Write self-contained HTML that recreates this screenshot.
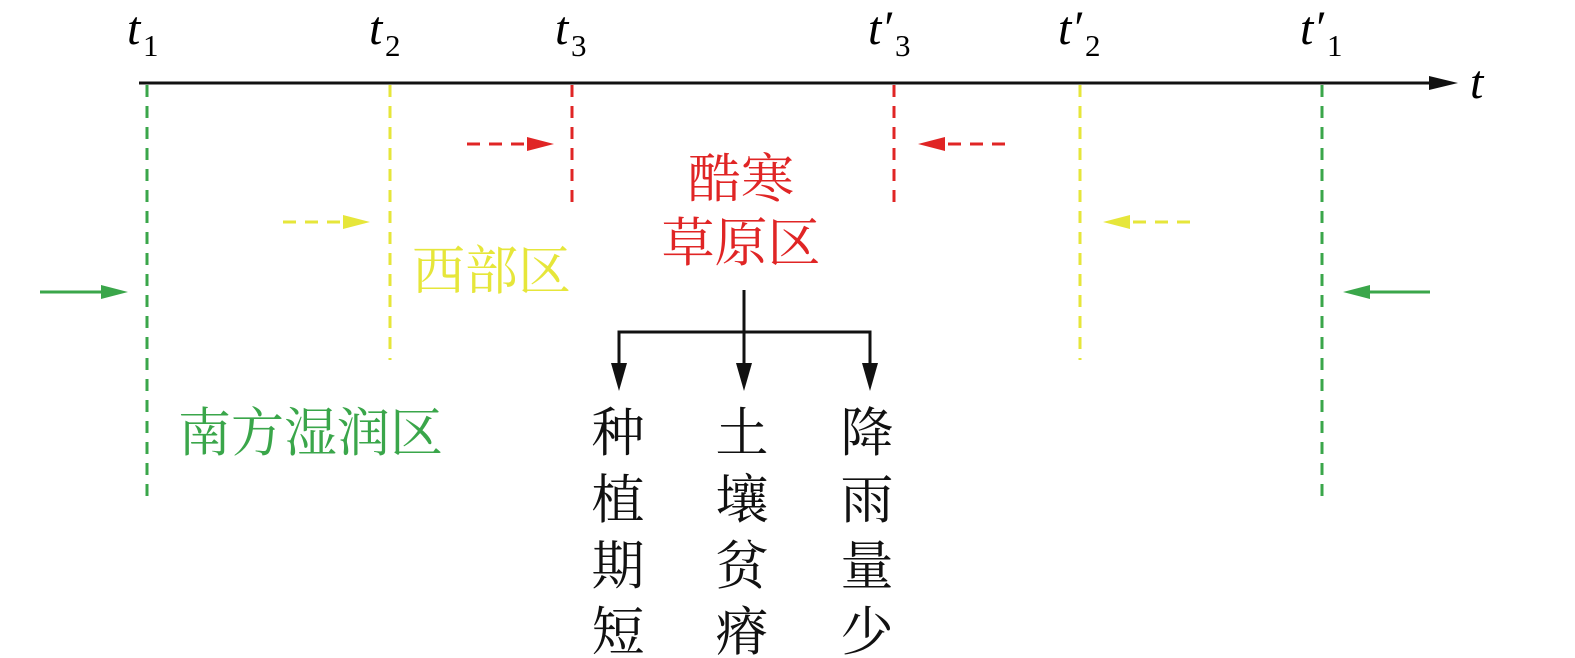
<!DOCTYPE html>
<html><head><meta charset="utf-8"><style>
html,body{margin:0;padding:0;background:#fff;width:1575px;height:658px;overflow:hidden}
svg{display:block}
.cj{font-family:"Liberation Serif","Noto Serif CJK SC",serif;font-size:53px}
.t{font-family:"Liberation Serif",serif;font-style:italic;font-size:48px}
.s{font-family:"Liberation Serif",serif;font-size:31px}
</style></head><body>
<svg width="1575" height="658" viewBox="0 0 1575 658" xmlns="http://www.w3.org/2000/svg">
<line x1="139" y1="83" x2="1432" y2="83" stroke="#111" stroke-width="3"/>
<path d="M1429,76 L1458,83 L1429,90z" fill="#111"/>
<text x="1470" y="98" class="t">t</text>
<g>
<text x="127" y="44" class="t">t</text><text x="143" y="56" class="s">1</text>
<text x="369" y="44" class="t">t</text><text x="385" y="56" class="s">2</text>
<text x="555" y="44" class="t">t</text><text x="571" y="56" class="s">3</text>
<text x="868" y="44" class="t">t′</text><text x="895" y="56" class="s">3</text>
<text x="1058" y="44" class="t">t′</text><text x="1085" y="56" class="s">2</text>
<text x="1300" y="44" class="t">t′</text><text x="1327" y="56" class="s">1</text>
</g>
<g stroke-width="3" stroke-dasharray="12,9" fill="none">
<line x1="147" y1="85" x2="147" y2="500" stroke="#3aa64a"/>
<line x1="1322" y1="85" x2="1322" y2="500" stroke="#3aa64a"/>
<line x1="390" y1="85" x2="390" y2="360" stroke="#e6e63a"/>
<line x1="1080" y1="85" x2="1080" y2="360" stroke="#e6e63a"/>
<line x1="572" y1="85" x2="572" y2="206" stroke="#e02525"/>
<line x1="894" y1="85" x2="894" y2="206" stroke="#e02525"/>
</g>
<g stroke-width="3" stroke-dasharray="13,9">
<line x1="467" y1="144" x2="527" y2="144" stroke="#e02525"/>
<line x1="1005" y1="144" x2="945" y2="144" stroke="#e02525"/>
<line x1="283" y1="222" x2="343" y2="222" stroke="#e6e63a"/>
<line x1="1190" y1="222" x2="1130" y2="222" stroke="#e6e63a"/>
</g>
<path d="M527,137 L554,144 L527,151z" fill="#e02525"/>
<path d="M945,137 L918,144 L945,151z" fill="#e02525"/>
<path d="M343,215 L370,222 L343,229z" fill="#e6e63a"/>
<path d="M1130,215 L1103,222 L1130,229z" fill="#e6e63a"/>
<line x1="40" y1="292" x2="102" y2="292" stroke="#3aa64a" stroke-width="3"/>
<path d="M101,285 L128,292 L101,299z" fill="#3aa64a"/>
<line x1="1430" y1="292" x2="1369" y2="292" stroke="#3aa64a" stroke-width="3"/>
<path d="M1370,285 L1343,292 L1370,299z" fill="#3aa64a"/>
<text x="741" y="197" text-anchor="middle" class="cj" fill="#e02525">酷寒</text>
<text x="741" y="261" text-anchor="middle" class="cj" fill="#e02525">草原区</text>
<text x="412" y="289" class="cj" fill="#e6e63a">西部区</text>
<text x="178" y="451" class="cj" fill="#3aa64a">南方湿润区</text>
<g stroke="#111" stroke-width="3" fill="none">
<line x1="744" y1="290" x2="744" y2="365"/>
<polyline points="619,365 619,332 870,332 870,365"/>
</g>
<path d="M611,363 L619,391 L627,363z" fill="#111"/>
<path d="M736,363 L744,391 L752,363z" fill="#111"/>
<path d="M862,363 L870,391 L878,363z" fill="#111"/>
<g class="cj" fill="#111" text-anchor="middle">
<text x="618" y="451">种</text><text x="618" y="518">植</text><text x="618" y="584">期</text><text x="618" y="650">短</text>
<text x="742" y="451">土</text><text x="742" y="518">壤</text><text x="742" y="584">贫</text><text x="742" y="650">瘠</text>
<text x="867" y="451">降</text><text x="867" y="518">雨</text><text x="867" y="584">量</text><text x="867" y="650">少</text>
</g>
</svg>
</body></html>
